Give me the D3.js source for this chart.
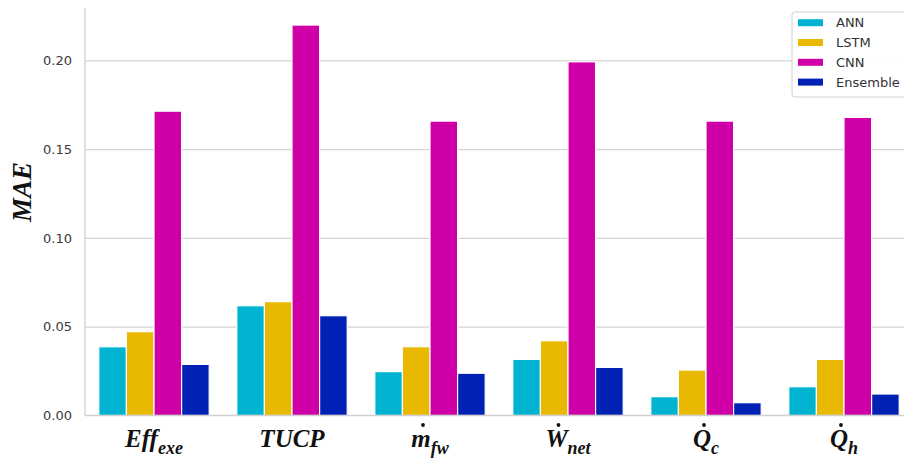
<!DOCTYPE html>
<html>
<head>
<meta charset="utf-8">
<script src="https://cdn.jsdelivr.net/npm/d3@7"></script>
<style>
  html, body { margin: 0; padding: 0; background: #fff; }
  svg { display: block; }
</style>
</head>
<body>
<svg id="chart" width="904" height="458"></svg>
<script>
// Target variables (x categories); each label is made of parts: base text, optional subscript, optional dot over a letter
const categories = ["Eff", "TUCP", "mfw", "Wnet", "Qc", "Qh"];
const categoryLabels = [
  [{ t: "Eff" }, { t: "exe", sub: true }],
  [{ t: "TUCP" }],
  [{ t: "m", dot: true }, { t: "fw", sub: true }],
  [{ t: "W", dot: true }, { t: "net", sub: true }],
  [{ t: "Q", dot: true }, { t: "c", sub: true }],
  [{ t: "Q", dot: true }, { t: "h", sub: true }]
];

// Models compared
const seriesNames = ["ANN", "LSTM", "CNN", "Ensemble"];
const seriesColors = ["#00b4d1", "#e9b800", "#d000a9", "#0021b3"];

// MAE per model, one value per category
const annMAE      = [0.0387, 0.0618, 0.0247, 0.0316, 0.0106, 0.0162];
const lstmMAE     = [0.0472, 0.0641, 0.0387, 0.0421, 0.0256, 0.0316];
const cnnMAE      = [0.1714, 0.2199, 0.1658, 0.1992, 0.1658, 0.1679];
const ensembleMAE = [0.0288, 0.0562, 0.0238, 0.0271, 0.0072, 0.0121];

const yTicks = [0.00, 0.05, 0.10, 0.15, 0.20];
const yLabel = "MAE";

const seriesValues = [annMAE, lstmMAE, cnnMAE, ensembleMAE];

const svg = d3.select("#chart");
const plot = { left: 85, right: 913, top: 8, bottom: 415.5 };

const x = d3.scaleBand().domain(categories).range([plot.left, plot.right]).padding(0);
const xInner = d3.scaleBand().domain(seriesNames)
  .range([x.bandwidth() * 0.1, x.bandwidth() * 0.9]).padding(0);
const y = d3.scaleLinear().domain([0, 0.2295]).range([plot.bottom, plot.top]);

// Horizontal grid
const grid = svg.append("g")
  .attr("transform", `translate(${plot.left},0)`)
  .call(d3.axisLeft(y).tickValues(yTicks.slice(1)).tickSize(-(plot.right - plot.left)).tickFormat(""));
grid.select(".domain").remove();
grid.selectAll("line").attr("stroke", "#d6d6d6").attr("stroke-width", 1.2);

// Bars
const groups = svg.append("g").selectAll("g")
  .data(categories)
  .join("g")
  .attr("transform", d => `translate(${x(d)},0)`);

groups.selectAll("rect")
  .data((d, i) => seriesNames.map((s, k) => ({ s, v: seriesValues[k][i], c: seriesColors[k] })))
  .join("rect")
  .attr("x", d => xInner(d.s))
  .attr("width", xInner.bandwidth())
  .attr("y", d => y(d.v))
  .attr("height", d => y(0) - y(d.v))
  .attr("fill", d => d.c)
  .attr("stroke", "#ffffff")
  .attr("stroke-width", 1.2);

// Spines
svg.append("line")
  .attr("x1", plot.left).attr("x2", plot.left)
  .attr("y1", plot.top).attr("y2", plot.bottom)
  .attr("stroke", "#d0d0d0").attr("stroke-width", 1.3);
svg.append("line")
  .attr("x1", plot.left).attr("x2", plot.right)
  .attr("y1", plot.bottom).attr("y2", plot.bottom)
  .attr("stroke", "#d0d0d0").attr("stroke-width", 1.3);

// Y tick labels
const yAxis = svg.append("g")
  .attr("transform", `translate(${plot.left},0)`)
  .call(d3.axisLeft(y).tickValues(yTicks).tickSize(0).tickPadding(13).tickFormat(d3.format(".2f")));
yAxis.select(".domain").remove();
yAxis.selectAll("text")
  .attr("font-family", "DejaVu Sans, sans-serif")
  .attr("font-size", 13)
  .attr("fill", "#3a3a3a");

// Y axis title
svg.append("text")
  .attr("transform", `translate(31,192) rotate(-90)`)
  .attr("text-anchor", "middle")
  .attr("font-family", "Liberation Serif, Times New Roman, serif")
  .attr("font-weight", "bold")
  .attr("font-style", "italic")
  .attr("font-size", 27)
  .attr("fill", "#111")
  .text(yLabel);

// X category labels with subscripts and dot accents
const xl = svg.append("g");
categories.forEach((c, i) => {
  const cx = x(c) + x.bandwidth() / 2;
  const t = xl.append("text")
    .attr("x", cx)
    .attr("y", 447)
    .attr("text-anchor", "middle")
    .attr("font-family", "Liberation Serif, Times New Roman, serif")
    .attr("font-weight", "bold")
    .attr("font-style", "italic")
    .attr("fill", "#111");
  categoryLabels[i].forEach(p => {
    const ts = t.append("tspan").text(p.t);
    if (p.sub) ts.attr("font-size", 18).attr("dy", 7);
    else ts.attr("font-size", 25);
  });
  // dot above the first letter where needed
  const parts = categoryLabels[i];
  if (parts[0].dot) {
    const node = t.node();
    const ext = node.getExtentOfChar(0);
    xl.append("circle")
      .attr("cx", ext.x + ext.width / 2 + 2)
      .attr("cy", 425)
      .attr("r", 1.9)
      .attr("fill", "#111");
  }
});

// Legend
const legend = svg.append("g").attr("transform", "translate(792,12)");
legend.append("rect")
  .attr("x", 0).attr("y", 0)
  .attr("width", 130).attr("height", 85)
  .attr("rx", 3)
  .attr("fill", "#fff").attr("fill-opacity", 0.9)
  .attr("stroke", "#d0d0d0").attr("stroke-width", 1);
seriesNames.forEach((s, k) => {
  const cy = 10.7 + k * 19.8;
  legend.append("rect")
    .attr("x", 6).attr("y", cy - 3.5)
    .attr("width", 25).attr("height", 7)
    .attr("fill", seriesColors[k]);
  legend.append("text")
    .attr("x", 44).attr("y", cy + 4.6)
    .attr("font-family", "DejaVu Sans, sans-serif")
    .attr("font-size", 13)
    .attr("fill", "#333")
    .text(s);
});
</script>
</body>
</html>
